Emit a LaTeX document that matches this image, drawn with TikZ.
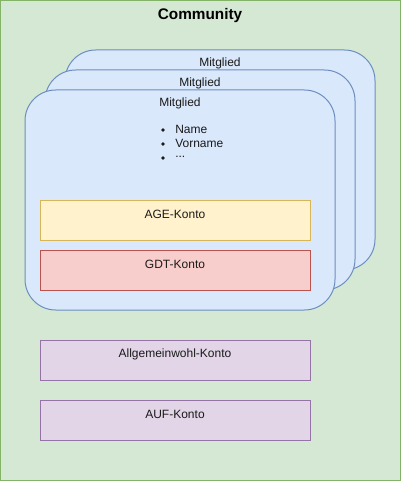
\documentclass[tikz,border=0pt]{standalone}
\usepackage{fontspec}
\setmainfont{Liberation Sans}
\usepackage{xcolor}
\definecolor{commfill}{HTML}{D5E8D4}
\definecolor{commline}{HTML}{82B366}
\definecolor{cardfill}{HTML}{DAE8FC}
\definecolor{cardline}{HTML}{6C8EBF}
\definecolor{agefill}{HTML}{FFF2CC}
\definecolor{ageline}{HTML}{D6B656}
\definecolor{gdtfill}{HTML}{F8CECC}
\definecolor{gdtline}{HTML}{B85450}
\definecolor{auffill}{HTML}{E1D5E7}
\definecolor{aufline}{HTML}{9673A6}
\definecolor{txt}{HTML}{1A1A1A}

\begin{document}
\begin{tikzpicture}[x=0.75pt,y=-0.75pt,
    lbl/.style={font=\fontsize{9}{10}\selectfont,text=txt,inner sep=0pt},
    card/.style={fill=cardfill,draw=cardline,line width=0.75pt,rounded corners=23pt},
    konto/.style={line width=0.75pt}]
        \useasboundingbox (0,0) rectangle (401,481);
        % community
        \fill[commfill] (0,0) rectangle (401,481);
        \draw[commline,line width=1pt] (0.75,0.75) rectangle (400.25,480.25);
        \node[font=\bfseries\fontsize{11.5}{13}\selectfont,inner sep=0pt] (community) at (200,16) {Community};
        % members
        \draw[card] (65,50) rectangle (375,270);
        \node[lbl] (mitglied3) at (220,63) {Mitglied};
        \draw[card] (45,70) rectangle (355,290);
        \node[lbl] (mitglied2) at (200,83) {Mitglied};
        \draw[card] (25,90) rectangle (335,310);
        \node[lbl] (mitglied1) at (180,103) {Mitglied};
        % attributes
        \fill[txt] (163,130) circle (1.9) coordinate (dot1);
        \fill[txt] (163,144) circle (1.9) coordinate (dot2);
        \fill[txt] (163,158) circle (1.9) coordinate (dot3);
        \node[lbl,anchor=west] (name) at (175,129) {Name};
        \node[lbl,anchor=west] (vorname) at (175,143) {Vorname};
        \node[lbl,anchor=west] (more) at (175,157) {...};
        % accounts
        \draw[konto,fill=agefill,draw=ageline] (40,200) rectangle (310,240);
        \node[lbl] (age) at (175,214) {AGE-Konto};
        \draw[konto,fill=gdtfill,draw=gdtline] (40,250) rectangle (310,290);
        \node[lbl] (gdt) at (175,264) {GDT-Konto};
        \draw[konto,fill=auffill,draw=aufline] (40,340) rectangle (310,380);
        \node[lbl] (allgemein) at (175,354) {Allgemeinwohl-Konto};
        \draw[konto,fill=auffill,draw=aufline] (40,400) rectangle (310,440);
        \node[lbl] (auf) at (175,414) {AUF-Konto};
    \end{tikzpicture}
\end{document}
